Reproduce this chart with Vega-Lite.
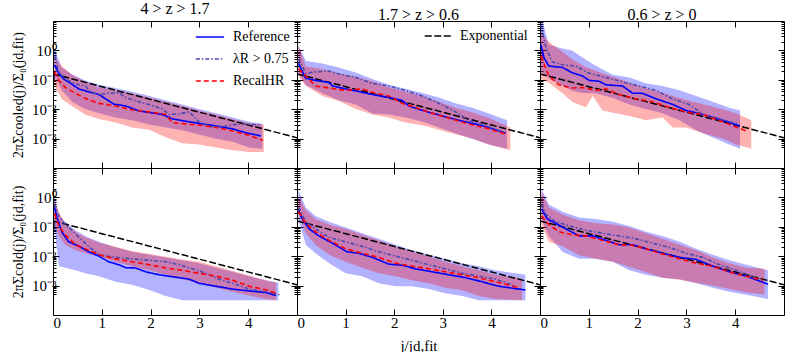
{
"$schema": "https://vega.github.io/schema/vega-lite/v6.json",
"background": "white",
"padding": {"left": 11, "top": 0, "right": 2, "bottom": 2},
"columns": 3,
"spacing": 0,
"bounds": "flush",
"resolve": {"scale": {"color": "independent", "strokeDash": "independent", "stroke": "independent"}},
"datasets": {
"exp": [{"n": "Exponential", "x": 0, "y": 0.159}, {"n": "Exponential", "x": 5, "y": 0.00107}],
"lines": [
{"p":"A","s":"Reference","x":0.03,"y":0.324},{"p":"A","s":"Reference","x":0.12,"y":0.166},{"p":"A","s":"Reference","x":0.22,"y":0.107},{"p":"A","s":"Reference","x":0.36,"y":0.0759},{"p":"A","s":"Reference","x":0.53,"y":0.049},{"p":"A","s":"Reference","x":0.73,"y":0.0389},{"p":"A","s":"Reference","x":0.94,"y":0.0316},{"p":"A","s":"Reference","x":1.08,"y":0.0224},{"p":"A","s":"Reference","x":1.25,"y":0.0148},{"p":"A","s":"Reference","x":1.49,"y":0.0129},{"p":"A","s":"Reference","x":1.76,"y":0.0087},{"p":"A","s":"Reference","x":1.97,"y":0.00776},{"p":"A","s":"Reference","x":2.24,"y":0.00661},{"p":"A","s":"Reference","x":2.45,"y":0.00468},{"p":"A","s":"Reference","x":2.72,"y":0.00389},{"p":"A","s":"Reference","x":2.99,"y":0.00331},{"p":"A","s":"Reference","x":3.34,"y":0.00269},{"p":"A","s":"Reference","x":3.68,"y":0.00214},{"p":"A","s":"Reference","x":3.95,"y":0.00158},{"p":"A","s":"Reference","x":4.26,"y":0.00123},
{"p":"A","s":"λR > 0.75","x":0.03,"y":0.646},{"p":"A","s":"λR > 0.75","x":0.12,"y":0.186},{"p":"A","s":"λR > 0.75","x":0.25,"y":0.107},{"p":"A","s":"λR > 0.75","x":0.39,"y":0.0813},{"p":"A","s":"λR > 0.75","x":0.53,"y":0.0676},{"p":"A","s":"λR > 0.75","x":0.66,"y":0.0617},{"p":"A","s":"λR > 0.75","x":0.77,"y":0.0389},{"p":"A","s":"λR > 0.75","x":0.94,"y":0.0316},{"p":"A","s":"λR > 0.75","x":1.14,"y":0.0347},{"p":"A","s":"λR > 0.75","x":1.35,"y":0.0363},{"p":"A","s":"λR > 0.75","x":1.49,"y":0.0251},{"p":"A","s":"λR > 0.75","x":1.76,"y":0.0178},{"p":"A","s":"λR > 0.75","x":1.97,"y":0.0145},{"p":"A","s":"λR > 0.75","x":2.24,"y":0.0102},{"p":"A","s":"λR > 0.75","x":2.38,"y":0.00661},{"p":"A","s":"λR > 0.75","x":2.58,"y":0.00692},{"p":"A","s":"λR > 0.75","x":2.79,"y":0.00813},{"p":"A","s":"λR > 0.75","x":2.99,"y":0.00372},{"p":"A","s":"λR > 0.75","x":3.27,"y":0.0024},{"p":"A","s":"λR > 0.75","x":3.54,"y":0.00269},{"p":"A","s":"λR > 0.75","x":3.82,"y":0.00316},{"p":"A","s":"λR > 0.75","x":4.09,"y":0.00302},{"p":"A","s":"λR > 0.75","x":4.26,"y":0.00302},
{"p":"A","s":"RecalHR","x":0.03,"y":0.186},{"p":"A","s":"RecalHR","x":0.12,"y":0.0955},{"p":"A","s":"RecalHR","x":0.25,"y":0.055},{"p":"A","s":"RecalHR","x":0.46,"y":0.0347},{"p":"A","s":"RecalHR","x":0.66,"y":0.0234},{"p":"A","s":"RecalHR","x":0.94,"y":0.0158},{"p":"A","s":"RecalHR","x":1.28,"y":0.0129},{"p":"A","s":"RecalHR","x":1.62,"y":0.00955},{"p":"A","s":"RecalHR","x":1.97,"y":0.00813},{"p":"A","s":"RecalHR","x":2.31,"y":0.00661},{"p":"A","s":"RecalHR","x":2.45,"y":0.00347},{"p":"A","s":"RecalHR","x":2.72,"y":0.00316},{"p":"A","s":"RecalHR","x":2.99,"y":0.00288},{"p":"A","s":"RecalHR","x":3.34,"y":0.0024},{"p":"A","s":"RecalHR","x":3.68,"y":0.00182},{"p":"A","s":"RecalHR","x":4.02,"y":0.00129},{"p":"A","s":"RecalHR","x":4.3,"y":0.00087},
{"p":"B","s":"Reference","x":0.03,"y":0.363},{"p":"B","s":"Reference","x":0.18,"y":0.112},{"p":"B","s":"Reference","x":0.38,"y":0.0955},{"p":"B","s":"Reference","x":0.66,"y":0.0813},{"p":"B","s":"Reference","x":0.73,"y":0.0617},{"p":"B","s":"Reference","x":1.0,"y":0.049},{"p":"B","s":"Reference","x":1.21,"y":0.0417},{"p":"B","s":"Reference","x":1.55,"y":0.0316},{"p":"B","s":"Reference","x":1.89,"y":0.0251},{"p":"B","s":"Reference","x":2.16,"y":0.02},{"p":"B","s":"Reference","x":2.3,"y":0.0129},{"p":"B","s":"Reference","x":2.58,"y":0.00912},{"p":"B","s":"Reference","x":2.99,"y":0.00589},{"p":"B","s":"Reference","x":3.26,"y":0.00447},{"p":"B","s":"Reference","x":3.6,"y":0.00331},{"p":"B","s":"Reference","x":3.95,"y":0.0024},{"p":"B","s":"Reference","x":4.29,"y":0.00151},
{"p":"B","s":"λR > 0.75","x":0.03,"y":0.513},{"p":"B","s":"λR > 0.75","x":0.18,"y":0.166},{"p":"B","s":"λR > 0.75","x":0.38,"y":0.186},{"p":"B","s":"λR > 0.75","x":0.66,"y":0.2},{"p":"B","s":"λR > 0.75","x":0.86,"y":0.158},{"p":"B","s":"λR > 0.75","x":1.21,"y":0.12},{"p":"B","s":"λR > 0.75","x":1.55,"y":0.0759},{"p":"B","s":"λR > 0.75","x":1.89,"y":0.0617},{"p":"B","s":"λR > 0.75","x":2.23,"y":0.0437},{"p":"B","s":"λR > 0.75","x":2.58,"y":0.0282},{"p":"B","s":"λR > 0.75","x":2.92,"y":0.0158},{"p":"B","s":"λR > 0.75","x":3.26,"y":0.00813},{"p":"B","s":"λR > 0.75","x":3.53,"y":0.00417},{"p":"B","s":"λR > 0.75","x":3.95,"y":0.00251},{"p":"B","s":"λR > 0.75","x":4.29,"y":0.00158},
{"p":"B","s":"RecalHR","x":0.03,"y":0.234},{"p":"B","s":"RecalHR","x":0.18,"y":0.135},{"p":"B","s":"RecalHR","x":0.38,"y":0.0617},{"p":"B","s":"RecalHR","x":0.66,"y":0.0525},{"p":"B","s":"RecalHR","x":1.0,"y":0.0437},{"p":"B","s":"RecalHR","x":1.34,"y":0.049},{"p":"B","s":"RecalHR","x":1.62,"y":0.0347},{"p":"B","s":"RecalHR","x":1.89,"y":0.0282},{"p":"B","s":"RecalHR","x":2.16,"y":0.0158},{"p":"B","s":"RecalHR","x":2.44,"y":0.0115},{"p":"B","s":"RecalHR","x":2.71,"y":0.00794},{"p":"B","s":"RecalHR","x":3.12,"y":0.00501},{"p":"B","s":"RecalHR","x":3.53,"y":0.00316},{"p":"B","s":"RecalHR","x":3.95,"y":0.00214},{"p":"B","s":"RecalHR","x":4.32,"y":0.00138},
{"p":"C","s":"Reference","x":0.02,"y":1.55},{"p":"C","s":"Reference","x":0.08,"y":0.575},{"p":"C","s":"Reference","x":0.18,"y":0.295},{"p":"C","s":"Reference","x":0.46,"y":0.263},{"p":"C","s":"Reference","x":0.66,"y":0.174},{"p":"C","s":"Reference","x":0.87,"y":0.135},{"p":"C","s":"Reference","x":1.01,"y":0.0955},{"p":"C","s":"Reference","x":1.21,"y":0.0891},{"p":"C","s":"Reference","x":1.35,"y":0.0676},{"p":"C","s":"Reference","x":1.69,"y":0.0617},{"p":"C","s":"Reference","x":1.9,"y":0.0347},{"p":"C","s":"Reference","x":2.1,"y":0.0347},{"p":"C","s":"Reference","x":2.38,"y":0.0224},{"p":"C","s":"Reference","x":2.72,"y":0.0145},{"p":"C","s":"Reference","x":2.99,"y":0.00912},{"p":"C","s":"Reference","x":3.34,"y":0.00661},{"p":"C","s":"Reference","x":3.75,"y":0.00417},{"p":"C","s":"Reference","x":4.09,"y":0.00269},
{"p":"C","s":"λR > 0.75","x":0.02,"y":7.4},{"p":"C","s":"λR > 0.75","x":0.12,"y":1.26},{"p":"C","s":"λR > 0.75","x":0.25,"y":0.407},{"p":"C","s":"λR > 0.75","x":0.46,"y":0.324},{"p":"C","s":"λR > 0.75","x":0.73,"y":0.295},{"p":"C","s":"λR > 0.75","x":1.01,"y":0.166},{"p":"C","s":"λR > 0.75","x":1.35,"y":0.12},{"p":"C","s":"λR > 0.75","x":1.69,"y":0.0851},{"p":"C","s":"λR > 0.75","x":2.03,"y":0.0617},{"p":"C","s":"λR > 0.75","x":2.38,"y":0.0437},{"p":"C","s":"λR > 0.75","x":2.72,"y":0.0224},{"p":"C","s":"λR > 0.75","x":3.06,"y":0.0145},{"p":"C","s":"λR > 0.75","x":3.34,"y":0.00661},{"p":"C","s":"λR > 0.75","x":3.75,"y":0.00437},{"p":"C","s":"λR > 0.75","x":4.09,"y":0.00302},
{"p":"C","s":"RecalHR","x":0.02,"y":0.646},{"p":"C","s":"RecalHR","x":0.18,"y":0.135},{"p":"C","s":"RecalHR","x":0.39,"y":0.0676},{"p":"C","s":"RecalHR","x":0.66,"y":0.0525},{"p":"C","s":"RecalHR","x":0.87,"y":0.055},{"p":"C","s":"RecalHR","x":1.14,"y":0.0437},{"p":"C","s":"RecalHR","x":1.35,"y":0.049},{"p":"C","s":"RecalHR","x":1.62,"y":0.0316},{"p":"C","s":"RecalHR","x":1.97,"y":0.0224},{"p":"C","s":"RecalHR","x":2.31,"y":0.0178},{"p":"C","s":"RecalHR","x":2.65,"y":0.0115},{"p":"C","s":"RecalHR","x":2.99,"y":0.00813},{"p":"C","s":"RecalHR","x":3.34,"y":0.00661},{"p":"C","s":"RecalHR","x":3.75,"y":0.00372},{"p":"C","s":"RecalHR","x":4.23,"y":0.00182},
{"p":"D","s":"Reference","x":0.03,"y":0.457},{"p":"D","s":"Reference","x":0.08,"y":0.209},{"p":"D","s":"Reference","x":0.18,"y":0.0676},{"p":"D","s":"Reference","x":0.32,"y":0.0309},{"p":"D","s":"Reference","x":0.53,"y":0.0219},{"p":"D","s":"Reference","x":0.73,"y":0.0141},{"p":"D","s":"Reference","x":0.94,"y":0.01},{"p":"D","s":"Reference","x":1.14,"y":0.00646},{"p":"D","s":"Reference","x":1.35,"y":0.00513},{"p":"D","s":"Reference","x":1.49,"y":0.00407},{"p":"D","s":"Reference","x":1.69,"y":0.00398},{"p":"D","s":"Reference","x":1.9,"y":0.00295},{"p":"D","s":"Reference","x":2.17,"y":0.00234},{"p":"D","s":"Reference","x":2.45,"y":0.002},{"p":"D","s":"Reference","x":2.79,"y":0.00166},{"p":"D","s":"Reference","x":2.99,"y":0.0012},{"p":"D","s":"Reference","x":3.34,"y":0.00095},{"p":"D","s":"Reference","x":3.68,"y":0.00076},{"p":"D","s":"Reference","x":4.02,"y":0.00066},{"p":"D","s":"Reference","x":4.36,"y":0.00058},{"p":"D","s":"Reference","x":4.57,"y":0.00046},
{"p":"D","s":"λR > 0.75","x":0.03,"y":0.575},{"p":"D","s":"λR > 0.75","x":0.12,"y":0.234},{"p":"D","s":"λR > 0.75","x":0.25,"y":0.117},{"p":"D","s":"λR > 0.75","x":0.39,"y":0.0759},{"p":"D","s":"λR > 0.75","x":0.53,"y":0.0437},{"p":"D","s":"λR > 0.75","x":0.73,"y":0.0219},{"p":"D","s":"λR > 0.75","x":0.94,"y":0.0112},{"p":"D","s":"λR > 0.75","x":1.28,"y":0.00912},{"p":"D","s":"λR > 0.75","x":1.62,"y":0.00813},{"p":"D","s":"λR > 0.75","x":1.97,"y":0.00724},{"p":"D","s":"λR > 0.75","x":2.31,"y":0.00646},{"p":"D","s":"λR > 0.75","x":2.58,"y":0.00513},{"p":"D","s":"λR > 0.75","x":2.86,"y":0.00372},{"p":"D","s":"λR > 0.75","x":3.13,"y":0.00263},{"p":"D","s":"λR > 0.75","x":3.4,"y":0.00166},{"p":"D","s":"λR > 0.75","x":3.68,"y":0.0012},{"p":"D","s":"λR > 0.75","x":4.02,"y":0.00076},{"p":"D","s":"λR > 0.75","x":4.36,"y":0.00062},{"p":"D","s":"λR > 0.75","x":4.64,"y":0.00049},
{"p":"D","s":"RecalHR","x":0.03,"y":0.288},{"p":"D","s":"RecalHR","x":0.12,"y":0.107},{"p":"D","s":"RecalHR","x":0.25,"y":0.0537},{"p":"D","s":"RecalHR","x":0.46,"y":0.0245},{"p":"D","s":"RecalHR","x":0.66,"y":0.0178},{"p":"D","s":"RecalHR","x":0.94,"y":0.0112},{"p":"D","s":"RecalHR","x":1.28,"y":0.00813},{"p":"D","s":"RecalHR","x":1.62,"y":0.00646},{"p":"D","s":"RecalHR","x":1.97,"y":0.00513},{"p":"D","s":"RecalHR","x":2.31,"y":0.00398},{"p":"D","s":"RecalHR","x":2.65,"y":0.00331},{"p":"D","s":"RecalHR","x":2.99,"y":0.00263},{"p":"D","s":"RecalHR","x":3.34,"y":0.00209},{"p":"D","s":"RecalHR","x":3.68,"y":0.00151},{"p":"D","s":"RecalHR","x":4.02,"y":0.00095},{"p":"D","s":"RecalHR","x":4.36,"y":0.00072},{"p":"D","s":"RecalHR","x":4.57,"y":0.00055},
{"p":"E","s":"Reference","x":0.03,"y":0.363},{"p":"E","s":"Reference","x":0.11,"y":0.186},{"p":"E","s":"Reference","x":0.25,"y":0.0851},{"p":"E","s":"Reference","x":0.45,"y":0.049},{"p":"E","s":"Reference","x":0.73,"y":0.0275},{"p":"E","s":"Reference","x":1.03,"y":0.0141},{"p":"E","s":"Reference","x":1.27,"y":0.0126},{"p":"E","s":"Reference","x":1.55,"y":0.00912},{"p":"E","s":"Reference","x":1.89,"y":0.00537},{"p":"E","s":"Reference","x":2.16,"y":0.0049},{"p":"E","s":"Reference","x":2.44,"y":0.00372},{"p":"E","s":"Reference","x":2.78,"y":0.00295},{"p":"E","s":"Reference","x":3.12,"y":0.00234},{"p":"E","s":"Reference","x":3.47,"y":0.00186},{"p":"E","s":"Reference","x":3.81,"y":0.00135},{"p":"E","s":"Reference","x":4.15,"y":0.00095},{"p":"E","s":"Reference","x":4.7,"y":0.00071},
{"p":"E","s":"λR > 0.75","x":0.03,"y":0.457},{"p":"E","s":"λR > 0.75","x":0.18,"y":0.148},{"p":"E","s":"λR > 0.75","x":0.38,"y":0.0851},{"p":"E","s":"λR > 0.75","x":0.66,"y":0.0437},{"p":"E","s":"λR > 0.75","x":1.0,"y":0.0309},{"p":"E","s":"λR > 0.75","x":1.34,"y":0.0219},{"p":"E","s":"λR > 0.75","x":1.68,"y":0.0141},{"p":"E","s":"λR > 0.75","x":2.03,"y":0.01},{"p":"E","s":"λR > 0.75","x":2.37,"y":0.00724},{"p":"E","s":"λR > 0.75","x":2.71,"y":0.00513},{"p":"E","s":"λR > 0.75","x":3.05,"y":0.00372},{"p":"E","s":"λR > 0.75","x":3.4,"y":0.00263},{"p":"E","s":"λR > 0.75","x":3.74,"y":0.00209},{"p":"E","s":"λR > 0.75","x":4.08,"y":0.00166},{"p":"E","s":"λR > 0.75","x":4.49,"y":0.00095},
{"p":"E","s":"RecalHR","x":0.03,"y":0.324},{"p":"E","s":"RecalHR","x":0.18,"y":0.132},{"p":"E","s":"RecalHR","x":0.38,"y":0.0676},{"p":"E","s":"RecalHR","x":0.66,"y":0.0347},{"p":"E","s":"RecalHR","x":1.0,"y":0.0178},{"p":"E","s":"RecalHR","x":1.34,"y":0.0126},{"p":"E","s":"RecalHR","x":1.68,"y":0.00912},{"p":"E","s":"RecalHR","x":2.03,"y":0.00575},{"p":"E","s":"RecalHR","x":2.37,"y":0.00457},{"p":"E","s":"RecalHR","x":2.71,"y":0.00372},{"p":"E","s":"RecalHR","x":3.05,"y":0.00295},{"p":"E","s":"RecalHR","x":3.4,"y":0.00234},{"p":"E","s":"RecalHR","x":3.74,"y":0.00186},{"p":"E","s":"RecalHR","x":4.08,"y":0.00135},{"p":"E","s":"RecalHR","x":4.56,"y":0.00085},
{"p":"F","s":"Reference","x":0.03,"y":0.407},{"p":"F","s":"Reference","x":0.15,"y":0.186},{"p":"F","s":"Reference","x":0.32,"y":0.132},{"p":"F","s":"Reference","x":0.53,"y":0.0851},{"p":"F","s":"Reference","x":0.8,"y":0.049},{"p":"F","s":"Reference","x":1.08,"y":0.049},{"p":"F","s":"Reference","x":1.35,"y":0.0347},{"p":"F","s":"Reference","x":1.62,"y":0.0245},{"p":"F","s":"Reference","x":1.9,"y":0.0245},{"p":"F","s":"Reference","x":2.17,"y":0.0178},{"p":"F","s":"Reference","x":2.51,"y":0.0126},{"p":"F","s":"Reference","x":2.86,"y":0.00912},{"p":"F","s":"Reference","x":3.2,"y":0.00776},{"p":"F","s":"Reference","x":3.54,"y":0.00457},{"p":"F","s":"Reference","x":3.88,"y":0.00295},{"p":"F","s":"Reference","x":4.23,"y":0.00209},{"p":"F","s":"Reference","x":4.67,"y":0.00112},
{"p":"F","s":"λR > 0.75","x":0.03,"y":0.575},{"p":"F","s":"λR > 0.75","x":0.12,"y":0.263},{"p":"F","s":"λR > 0.75","x":0.32,"y":0.148},{"p":"F","s":"λR > 0.75","x":0.6,"y":0.107},{"p":"F","s":"λR > 0.75","x":0.94,"y":0.0759},{"p":"F","s":"λR > 0.75","x":1.28,"y":0.0603},{"p":"F","s":"λR > 0.75","x":1.62,"y":0.049},{"p":"F","s":"λR > 0.75","x":1.97,"y":0.0389},{"p":"F","s":"λR > 0.75","x":2.31,"y":0.0275},{"p":"F","s":"λR > 0.75","x":2.65,"y":0.02},{"p":"F","s":"λR > 0.75","x":2.99,"y":0.0126},{"p":"F","s":"λR > 0.75","x":3.34,"y":0.00912},{"p":"F","s":"λR > 0.75","x":3.68,"y":0.00513},{"p":"F","s":"λR > 0.75","x":4.02,"y":0.00331},{"p":"F","s":"λR > 0.75","x":4.5,"y":0.00166},
{"p":"F","s":"RecalHR","x":0.03,"y":0.234},{"p":"F","s":"RecalHR","x":0.18,"y":0.12},{"p":"F","s":"RecalHR","x":0.39,"y":0.0676},{"p":"F","s":"RecalHR","x":0.66,"y":0.0537},{"p":"F","s":"RecalHR","x":0.94,"y":0.049},{"p":"F","s":"RecalHR","x":1.28,"y":0.0347},{"p":"F","s":"RecalHR","x":1.62,"y":0.0245},{"p":"F","s":"RecalHR","x":1.9,"y":0.0234},{"p":"F","s":"RecalHR","x":2.17,"y":0.0178},{"p":"F","s":"RecalHR","x":2.51,"y":0.012},{"p":"F","s":"RecalHR","x":2.86,"y":0.00813},{"p":"F","s":"RecalHR","x":3.2,"y":0.00575},{"p":"F","s":"RecalHR","x":3.54,"y":0.00457},{"p":"F","s":"RecalHR","x":3.88,"y":0.00295},{"p":"F","s":"RecalHR","x":4.23,"y":0.00209},{"p":"F","s":"RecalHR","x":4.57,"y":0.00151}
],
"bands": [
{"p":"A","b":"blue","x":0.03,"lo":0.135,"hi":1.12},{"p":"A","b":"blue","x":0.18,"lo":0.0437,"hi":0.263},{"p":"A","b":"blue","x":0.39,"lo":0.0178,"hi":0.155},{"p":"A","b":"blue","x":0.66,"lo":0.0102,"hi":0.0955},{"p":"A","b":"blue","x":0.94,"lo":0.00724,"hi":0.0676},{"p":"A","b":"blue","x":1.28,"lo":0.00525,"hi":0.0525},{"p":"A","b":"blue","x":1.62,"lo":0.00417,"hi":0.0389},{"p":"A","b":"blue","x":1.97,"lo":0.00302,"hi":0.0282},{"p":"A","b":"blue","x":2.31,"lo":0.0024,"hi":0.02},{"p":"A","b":"blue","x":2.65,"lo":0.00191,"hi":0.0145},{"p":"A","b":"blue","x":2.99,"lo":0.00138,"hi":0.0102},{"p":"A","b":"blue","x":3.34,"lo":0.00098,"hi":0.00724},{"p":"A","b":"blue","x":3.68,"lo":0.00078,"hi":0.00525},{"p":"A","b":"blue","x":4.02,"lo":0.0005,"hi":0.00372},{"p":"A","b":"blue","x":4.29,"lo":0.00045,"hi":0.00316},
{"p":"A","b":"red","x":0.03,"lo":0.0676,"hi":0.575},{"p":"A","b":"red","x":0.18,"lo":0.0224,"hi":0.295},{"p":"A","b":"red","x":0.39,"lo":0.0129,"hi":0.148},{"p":"A","b":"red","x":0.66,"lo":0.00661,"hi":0.0851},{"p":"A","b":"red","x":0.94,"lo":0.00468,"hi":0.055},{"p":"A","b":"red","x":1.28,"lo":0.00355,"hi":0.0437},{"p":"A","b":"red","x":1.62,"lo":0.0024,"hi":0.0347},{"p":"A","b":"red","x":1.97,"lo":0.002,"hi":0.0251},{"p":"A","b":"red","x":2.31,"lo":0.00112,"hi":0.0178},{"p":"A","b":"red","x":2.65,"lo":0.00069,"hi":0.0129},{"p":"A","b":"red","x":2.99,"lo":0.00063,"hi":0.00912},{"p":"A","b":"red","x":3.34,"lo":0.0005,"hi":0.00661},{"p":"A","b":"red","x":3.68,"lo":0.0004,"hi":0.00468},{"p":"A","b":"red","x":4.02,"lo":0.00035,"hi":0.00331},{"p":"A","b":"red","x":4.32,"lo":0.00035,"hi":0.00302},
{"p":"B","b":"blue","x":0.03,"lo":0.166,"hi":1.41},{"p":"B","b":"blue","x":0.18,"lo":0.0676,"hi":0.447},{"p":"B","b":"blue","x":0.52,"lo":0.0347,"hi":0.355},{"p":"B","b":"blue","x":0.86,"lo":0.02,"hi":0.263},{"p":"B","b":"blue","x":1.21,"lo":0.0145,"hi":0.178},{"p":"B","b":"blue","x":1.55,"lo":0.00708,"hi":0.107},{"p":"B","b":"blue","x":1.89,"lo":0.00661,"hi":0.0676},{"p":"B","b":"blue","x":2.23,"lo":0.00525,"hi":0.0501},{"p":"B","b":"blue","x":2.58,"lo":0.00372,"hi":0.0355},{"p":"B","b":"blue","x":2.92,"lo":0.0024,"hi":0.0251},{"p":"B","b":"blue","x":3.26,"lo":0.00151,"hi":0.0158},{"p":"B","b":"blue","x":3.6,"lo":0.00098,"hi":0.0112},{"p":"B","b":"blue","x":3.95,"lo":0.00063,"hi":0.00708},{"p":"B","b":"blue","x":4.32,"lo":0.00045,"hi":0.00417},
{"p":"B","b":"red","x":0.03,"lo":0.135,"hi":1.55},{"p":"B","b":"red","x":0.18,"lo":0.0631,"hi":0.282},{"p":"B","b":"red","x":0.52,"lo":0.0282,"hi":0.234},{"p":"B","b":"red","x":0.86,"lo":0.0191,"hi":0.166},{"p":"B","b":"red","x":1.21,"lo":0.0102,"hi":0.126},{"p":"B","b":"red","x":1.55,"lo":0.00661,"hi":0.0891},{"p":"B","b":"red","x":1.89,"lo":0.00525,"hi":0.0562},{"p":"B","b":"red","x":2.23,"lo":0.00355,"hi":0.0398},{"p":"B","b":"red","x":2.58,"lo":0.00282,"hi":0.0282},{"p":"B","b":"red","x":2.92,"lo":0.002,"hi":0.0178},{"p":"B","b":"red","x":3.26,"lo":0.00141,"hi":0.0112},{"p":"B","b":"red","x":3.6,"lo":0.001,"hi":0.00794},{"p":"B","b":"red","x":3.95,"lo":0.00063,"hi":0.00501},{"p":"B","b":"red","x":4.39,"lo":0.0004,"hi":0.0024},
{"p":"C","b":"blue","x":0.02,"lo":0.186,"hi":15.8},{"p":"C","b":"blue","x":0.18,"lo":0.112,"hi":1.55},{"p":"C","b":"blue","x":0.46,"lo":0.0617,"hi":1.17},{"p":"C","b":"blue","x":0.66,"lo":0.0417,"hi":1.0},{"p":"C","b":"blue","x":0.87,"lo":0.0355,"hi":0.575},{"p":"C","b":"blue","x":1.14,"lo":0.0347,"hi":0.302},{"p":"C","b":"blue","x":1.49,"lo":0.024,"hi":0.148},{"p":"C","b":"blue","x":1.83,"lo":0.0145,"hi":0.12},{"p":"C","b":"blue","x":2.17,"lo":0.0102,"hi":0.0759},{"p":"C","b":"blue","x":2.51,"lo":0.00724,"hi":0.0617},{"p":"C","b":"blue","x":2.86,"lo":0.00417,"hi":0.0437},{"p":"C","b":"blue","x":3.2,"lo":0.00191,"hi":0.0282},{"p":"C","b":"blue","x":3.54,"lo":0.0011,"hi":0.0178},{"p":"C","b":"blue","x":3.88,"lo":0.00063,"hi":0.0112},{"p":"C","b":"blue","x":4.1,"lo":0.00045,"hi":0.00912},
{"p":"C","b":"red","x":0.02,"lo":0.107,"hi":3.8},{"p":"C","b":"red","x":0.18,"lo":0.0794,"hi":1.95},{"p":"C","b":"red","x":0.46,"lo":0.0347,"hi":0.891},{"p":"C","b":"red","x":0.66,"lo":0.0178,"hi":0.501},{"p":"C","b":"red","x":0.94,"lo":0.0115,"hi":0.269},{"p":"C","b":"red","x":1.08,"lo":0.0282,"hi":0.224},{"p":"C","b":"red","x":1.28,"lo":0.00912,"hi":0.166},{"p":"C","b":"red","x":1.55,"lo":0.00724,"hi":0.117},{"p":"C","b":"red","x":1.83,"lo":0.00589,"hi":0.0813},{"p":"C","b":"red","x":2.17,"lo":0.00417,"hi":0.0525},{"p":"C","b":"red","x":2.51,"lo":0.00525,"hi":0.0363},{"p":"C","b":"red","x":2.72,"lo":0.0024,"hi":0.0282},{"p":"C","b":"red","x":2.99,"lo":0.0024,"hi":0.0209},{"p":"C","b":"red","x":3.34,"lo":0.00151,"hi":0.0148},{"p":"C","b":"red","x":3.75,"lo":0.00098,"hi":0.01},{"p":"C","b":"red","x":4.02,"lo":0.00063,"hi":0.00708},{"p":"C","b":"red","x":4.33,"lo":0.00045,"hi":0.00417},
{"p":"D","b":"blue","x":0.03,"lo":0.0955,"hi":1.12},{"p":"D","b":"blue","x":0.12,"lo":0.00457,"hi":0.234},{"p":"D","b":"blue","x":0.25,"lo":0.00407,"hi":0.148},{"p":"D","b":"blue","x":0.46,"lo":0.00331,"hi":0.0759},{"p":"D","b":"blue","x":0.66,"lo":0.00263,"hi":0.049},{"p":"D","b":"blue","x":0.94,"lo":0.00209,"hi":0.0309},{"p":"D","b":"blue","x":1.28,"lo":0.00135,"hi":0.02},{"p":"D","b":"blue","x":1.62,"lo":0.00107,"hi":0.0141},{"p":"D","b":"blue","x":1.97,"lo":0.00071,"hi":0.0112},{"p":"D","b":"blue","x":2.31,"lo":0.00044,"hi":0.00912},{"p":"D","b":"blue","x":2.65,"lo":0.00032,"hi":0.00724},{"p":"D","b":"blue","x":2.99,"lo":0.00032,"hi":0.00575},{"p":"D","b":"blue","x":3.34,"lo":0.00032,"hi":0.00407},{"p":"D","b":"blue","x":3.68,"lo":0.00032,"hi":0.00295},{"p":"D","b":"blue","x":4.02,"lo":0.00032,"hi":0.00209},{"p":"D","b":"blue","x":4.36,"lo":0.00032,"hi":0.00151},{"p":"D","b":"blue","x":4.62,"lo":0.00032,"hi":0.00126},
{"p":"D","b":"red","x":0.03,"lo":0.12,"hi":0.794},{"p":"D","b":"red","x":0.12,"lo":0.049,"hi":0.324},{"p":"D","b":"red","x":0.25,"lo":0.0245,"hi":0.132},{"p":"D","b":"red","x":0.46,"lo":0.0158,"hi":0.0676},{"p":"D","b":"red","x":0.66,"lo":0.0126,"hi":0.0437},{"p":"D","b":"red","x":0.94,"lo":0.01,"hi":0.0295},{"p":"D","b":"red","x":1.28,"lo":0.00646,"hi":0.0209},{"p":"D","b":"red","x":1.62,"lo":0.00457,"hi":0.0151},{"p":"D","b":"red","x":1.97,"lo":0.00331,"hi":0.012},{"p":"D","b":"red","x":2.31,"lo":0.00234,"hi":0.00955},{"p":"D","b":"red","x":2.65,"lo":0.00166,"hi":0.00776},{"p":"D","b":"red","x":2.99,"lo":0.0012,"hi":0.00646},{"p":"D","b":"red","x":3.34,"lo":0.00085,"hi":0.00457},{"p":"D","b":"red","x":3.68,"lo":0.00062,"hi":0.00316},{"p":"D","b":"red","x":4.02,"lo":0.00046,"hi":0.00219},{"p":"D","b":"red","x":4.36,"lo":0.00035,"hi":0.00151},{"p":"D","b":"red","x":4.57,"lo":0.00032,"hi":0.00126},
{"p":"E","b":"blue","x":0.03,"lo":0.186,"hi":1.74},{"p":"E","b":"blue","x":0.18,"lo":0.0245,"hi":0.457},{"p":"E","b":"blue","x":0.38,"lo":0.0126,"hi":0.234},{"p":"E","b":"blue","x":0.66,"lo":0.00575,"hi":0.148},{"p":"E","b":"blue","x":1.0,"lo":0.00263,"hi":0.0955},{"p":"E","b":"blue","x":1.34,"lo":0.00209,"hi":0.0603},{"p":"E","b":"blue","x":1.68,"lo":0.0012,"hi":0.0389},{"p":"E","b":"blue","x":2.03,"lo":0.00095,"hi":0.0245},{"p":"E","b":"blue","x":2.37,"lo":0.00095,"hi":0.0158},{"p":"E","b":"blue","x":2.71,"lo":0.00076,"hi":0.0112},{"p":"E","b":"blue","x":3.05,"lo":0.00055,"hi":0.00813},{"p":"E","b":"blue","x":3.4,"lo":0.00044,"hi":0.00575},{"p":"E","b":"blue","x":3.74,"lo":0.00032,"hi":0.00457},{"p":"E","b":"blue","x":4.08,"lo":0.00032,"hi":0.00331},{"p":"E","b":"blue","x":4.7,"lo":0.00032,"hi":0.00234},
{"p":"E","b":"red","x":0.03,"lo":0.288,"hi":1.12},{"p":"E","b":"red","x":0.18,"lo":0.0603,"hi":0.363},{"p":"E","b":"red","x":0.38,"lo":0.0245,"hi":0.186},{"p":"E","b":"red","x":0.66,"lo":0.0112,"hi":0.12},{"p":"E","b":"red","x":1.0,"lo":0.00646,"hi":0.0851},{"p":"E","b":"red","x":1.34,"lo":0.00407,"hi":0.0537},{"p":"E","b":"red","x":1.68,"lo":0.00263,"hi":0.0347},{"p":"E","b":"red","x":2.03,"lo":0.00209,"hi":0.0219},{"p":"E","b":"red","x":2.37,"lo":0.00151,"hi":0.0141},{"p":"E","b":"red","x":2.71,"lo":0.0012,"hi":0.01},{"p":"E","b":"red","x":3.05,"lo":0.00085,"hi":0.00646},{"p":"E","b":"red","x":3.4,"lo":0.00069,"hi":0.00457},{"p":"E","b":"red","x":3.74,"lo":0.00044,"hi":0.00331},{"p":"E","b":"red","x":4.08,"lo":0.00035,"hi":0.00234},{"p":"E","b":"red","x":4.63,"lo":0.00032,"hi":0.00174},
{"p":"F","b":"blue","x":0.03,"lo":0.186,"hi":1.95},{"p":"F","b":"blue","x":0.18,"lo":0.049,"hi":0.575},{"p":"F","b":"blue","x":0.46,"lo":0.0141,"hi":0.324},{"p":"F","b":"blue","x":0.8,"lo":0.00813,"hi":0.209},{"p":"F","b":"blue","x":1.14,"lo":0.00813,"hi":0.186},{"p":"F","b":"blue","x":1.49,"lo":0.00646,"hi":0.148},{"p":"F","b":"blue","x":1.83,"lo":0.00331,"hi":0.107},{"p":"F","b":"blue","x":2.17,"lo":0.00234,"hi":0.0676},{"p":"F","b":"blue","x":2.51,"lo":0.00186,"hi":0.049},{"p":"F","b":"blue","x":2.86,"lo":0.00166,"hi":0.0309},{"p":"F","b":"blue","x":3.2,"lo":0.0012,"hi":0.0178},{"p":"F","b":"blue","x":3.54,"lo":0.00085,"hi":0.0112},{"p":"F","b":"blue","x":3.88,"lo":0.00062,"hi":0.00724},{"p":"F","b":"blue","x":4.23,"lo":0.00049,"hi":0.00513},{"p":"F","b":"blue","x":4.67,"lo":0.00035,"hi":0.00331},
{"p":"F","b":"red","x":0.03,"lo":0.12,"hi":1.55},{"p":"F","b":"red","x":0.18,"lo":0.0309,"hi":0.457},{"p":"F","b":"red","x":0.46,"lo":0.0219,"hi":0.263},{"p":"F","b":"red","x":0.8,"lo":0.0107,"hi":0.166},{"p":"F","b":"red","x":1.14,"lo":0.00813,"hi":0.132},{"p":"F","b":"red","x":1.49,"lo":0.00646,"hi":0.12},{"p":"F","b":"red","x":1.83,"lo":0.00437,"hi":0.0955},{"p":"F","b":"red","x":2.17,"lo":0.00282,"hi":0.0603},{"p":"F","b":"red","x":2.51,"lo":0.00186,"hi":0.0389},{"p":"F","b":"red","x":2.86,"lo":0.00158,"hi":0.0245},{"p":"F","b":"red","x":3.2,"lo":0.00126,"hi":0.0158},{"p":"F","b":"red","x":3.54,"lo":0.001,"hi":0.00912},{"p":"F","b":"red","x":3.88,"lo":0.00076,"hi":0.00575},{"p":"F","b":"red","x":4.23,"lo":0.00058,"hi":0.00407},{"p":"F","b":"red","x":4.6,"lo":0.0005,"hi":0.00372}
]
},
"concat": [
{"width": 244, "height": 147, "title": {"text": "4 > z > 1.7"},
 "layer": [
  {"data": {"name": "bands"}, "transform": [{"filter": "datum.p == 'A' && datum.b == 'blue'"}], "mark": {"type": "area", "color": "#0000ff", "opacity": 0.3, "clip": true},
   "encoding": {"x": {"field": "x", "type": "quantitative", "scale": {"domain": [0, 5]}, "axis": {"orient": "bottom", "values": [0,1,2,3,4], "tickSize": -6, "labels": false, "title": null}},
     "y": {"field": "lo", "type": "quantitative", "scale": {"type": "log", "domain": [0.00044, 9]}, "axis": {"orient": "left", "values": [0.0005,0.0006,0.0007,0.0008,0.0009,0.001,0.002,0.003,0.004,0.005,0.006,0.007,0.008,0.009,0.01,0.02,0.03,0.04,0.05,0.06,0.07,0.08,0.09,0.1,0.2,0.3,0.4,0.5,0.6,0.7,0.8,0.9,1,2,3,4,5,6,7,8,9], "labelExpr": "datum.value == 1 ? '10⁰' : datum.value == 0.1 ? '10⁻¹' : datum.value == 0.01 ? '10⁻²' : datum.value == 0.001 ? '10⁻³' : ''", "labelOverlap": false, "labelFontSize": 15, "tickSize": {"condition": {"test": "datum.value == 1 || datum.value == 0.1 || datum.value == 0.01 || datum.value == 0.001", "value": -6}, "value": -3}, "labelPadding": 3, "title": "2πΣcooled(j)/Σ₀(jd,fit)", "titleFontSize": 14, "titlePadding": 6}},
     "y2": {"field": "hi"}}},
  {"data": {"name": "bands"}, "transform": [{"filter": "datum.p == 'A' && datum.b == 'red'"}], "mark": {"type": "area", "color": "#ff0000", "opacity": 0.3, "clip": true},
   "encoding": {"x": {"field": "x", "type": "quantitative", "axis": null}, "y": {"field": "lo", "type": "quantitative", "axis": null}, "y2": {"field": "hi"}}},
  {"data": {"name": "exp"}, "mark": {"type": "line", "color": "black", "strokeDash": [7, 2.5], "strokeWidth": 1.5, "clip": true},
   "encoding": {"x": {"field": "x", "type": "quantitative", "axis": null}, "y": {"field": "y", "type": "quantitative", "axis": null}}},
  {"data": {"name": "lines"}, "transform": [{"filter": "datum.p == 'A'"}], "mark": {"type": "line", "strokeWidth": 1.6, "clip": true},
   "encoding": {"x": {"field": "x", "type": "quantitative", "axis": {"orient": "top", "values": [0,1,2,3,4], "tickSize": -6, "labels": false, "title": null}},
     "y": {"field": "y", "type": "quantitative", "axis": {"orient": "right", "values": [0.0005,0.0006,0.0007,0.0008,0.0009,0.001,0.002,0.003,0.004,0.005,0.006,0.007,0.008,0.009,0.01,0.02,0.03,0.04,0.05,0.06,0.07,0.08,0.09,0.1,0.2,0.3,0.4,0.5,0.6,0.7,0.8,0.9,1,2,3,4,5,6,7,8,9], "tickSize": {"condition": {"test": "datum.value == 1 || datum.value == 0.1 || datum.value == 0.01 || datum.value == 0.001", "value": -6}, "value": -3}, "labels": false, "title": null}},
     "color": {"field": "s", "type": "nominal", "scale": {"domain": ["Reference", "λR > 0.75", "RecalHR"], "range": ["#0000ff", "#4a4ab0", "#ff0000"]}, "legend": {"orient": "none", "legendX": 142, "legendY": 1, "title": null, "symbolType": "stroke", "symbolSize": 800, "symbolStrokeWidth": 1.6, "rowPadding": -12.5, "labelOffset": 8, "labelFontSize": 14}},
     "strokeDash": {"field": "s", "type": "nominal", "scale": {"domain": ["Reference", "λR > 0.75", "RecalHR"], "range": [[1, 0], [4, 2, 1.5, 2], [5, 3]]}, "legend": {"orient": "none", "legendX": 142, "legendY": 1, "title": null, "symbolType": "stroke", "symbolSize": 800, "symbolStrokeWidth": 1.6, "rowPadding": -12.5, "labelOffset": 8, "labelFontSize": 14}}}}
 ],
 "resolve": {"axis": {"x": "independent", "y": "independent"}}},
{"width": 243, "height": 147, "title": {"text": "1.7 > z > 0.6"},
 "layer": [
  {"data": {"name": "bands"}, "transform": [{"filter": "datum.p == 'B' && datum.b == 'blue'"}], "mark": {"type": "area", "color": "#0000ff", "opacity": 0.3, "clip": true},
   "encoding": {"x": {"field": "x", "type": "quantitative", "scale": {"domain": [0, 5]}, "axis": {"orient": "bottom", "values": [0,1,2,3,4], "tickSize": -6, "labels": false, "title": null}},
     "y": {"field": "lo", "type": "quantitative", "scale": {"type": "log", "domain": [0.00044, 9]}, "axis": {"orient": "left", "values": [0.0005,0.0006,0.0007,0.0008,0.0009,0.001,0.002,0.003,0.004,0.005,0.006,0.007,0.008,0.009,0.01,0.02,0.03,0.04,0.05,0.06,0.07,0.08,0.09,0.1,0.2,0.3,0.4,0.5,0.6,0.7,0.8,0.9,1,2,3,4,5,6,7,8,9], "tickSize": {"condition": {"test": "datum.value == 1 || datum.value == 0.1 || datum.value == 0.01 || datum.value == 0.001", "value": -6}, "value": -3}, "labels": false, "title": null}},
     "y2": {"field": "hi"}}},
  {"data": {"name": "bands"}, "transform": [{"filter": "datum.p == 'B' && datum.b == 'red'"}], "mark": {"type": "area", "color": "#ff0000", "opacity": 0.3, "clip": true},
   "encoding": {"x": {"field": "x", "type": "quantitative", "axis": null}, "y": {"field": "lo", "type": "quantitative", "axis": null}, "y2": {"field": "hi"}}},
  {"data": {"name": "exp"}, "mark": {"type": "line", "color": "black", "strokeDash": [7, 2.5], "strokeWidth": 1.5, "clip": true},
   "encoding": {"x": {"field": "x", "type": "quantitative", "axis": null}, "y": {"field": "y", "type": "quantitative", "axis": null},
     "stroke": {"field": "n", "type": "nominal", "scale": {"range": ["black"]}, "legend": {"orient": "none", "legendX": 127, "legendY": 1, "title": null, "symbolType": "stroke", "symbolSize": 700, "symbolDash": [7, 2.5], "symbolStrokeWidth": 1.5, "labelOffset": 8, "labelFontSize": 14}}}},
  {"data": {"name": "lines"}, "transform": [{"filter": "datum.p == 'B'"}], "mark": {"type": "line", "strokeWidth": 1.6, "clip": true},
   "encoding": {"x": {"field": "x", "type": "quantitative", "axis": {"orient": "top", "values": [0,1,2,3,4], "tickSize": -6, "labels": false, "title": null}},
     "y": {"field": "y", "type": "quantitative", "axis": {"orient": "right", "values": [0.0005,0.0006,0.0007,0.0008,0.0009,0.001,0.002,0.003,0.004,0.005,0.006,0.007,0.008,0.009,0.01,0.02,0.03,0.04,0.05,0.06,0.07,0.08,0.09,0.1,0.2,0.3,0.4,0.5,0.6,0.7,0.8,0.9,1,2,3,4,5,6,7,8,9], "tickSize": {"condition": {"test": "datum.value == 1 || datum.value == 0.1 || datum.value == 0.01 || datum.value == 0.001", "value": -6}, "value": -3}, "labels": false, "title": null}},
     "color": {"field": "s", "type": "nominal", "scale": {"domain": ["Reference", "λR > 0.75", "RecalHR"], "range": ["#0000ff", "#4a4ab0", "#ff0000"]}, "legend": null},
     "strokeDash": {"field": "s", "type": "nominal", "scale": {"domain": ["Reference", "λR > 0.75", "RecalHR"], "range": [[1, 0], [4, 2, 1.5, 2], [5, 3]]}, "legend": null}}}
 ],
 "resolve": {"axis": {"x": "independent", "y": "independent"}}},
{"width": 244, "height": 147, "title": {"text": "0.6 > z > 0"},
 "layer": [
  {"data": {"name": "bands"}, "transform": [{"filter": "datum.p == 'C' && datum.b == 'blue'"}], "mark": {"type": "area", "color": "#0000ff", "opacity": 0.3, "clip": true},
   "encoding": {"x": {"field": "x", "type": "quantitative", "scale": {"domain": [0, 5]}, "axis": {"orient": "bottom", "values": [0,1,2,3,4], "tickSize": -6, "labels": false, "title": null}},
     "y": {"field": "lo", "type": "quantitative", "scale": {"type": "log", "domain": [0.00044, 9]}, "axis": {"orient": "left", "values": [0.0005,0.0006,0.0007,0.0008,0.0009,0.001,0.002,0.003,0.004,0.005,0.006,0.007,0.008,0.009,0.01,0.02,0.03,0.04,0.05,0.06,0.07,0.08,0.09,0.1,0.2,0.3,0.4,0.5,0.6,0.7,0.8,0.9,1,2,3,4,5,6,7,8,9], "tickSize": {"condition": {"test": "datum.value == 1 || datum.value == 0.1 || datum.value == 0.01 || datum.value == 0.001", "value": -6}, "value": -3}, "labels": false, "title": null}},
     "y2": {"field": "hi"}}},
  {"data": {"name": "bands"}, "transform": [{"filter": "datum.p == 'C' && datum.b == 'red'"}], "mark": {"type": "area", "color": "#ff0000", "opacity": 0.3, "clip": true},
   "encoding": {"x": {"field": "x", "type": "quantitative", "axis": null}, "y": {"field": "lo", "type": "quantitative", "axis": null}, "y2": {"field": "hi"}}},
  {"data": {"name": "exp"}, "mark": {"type": "line", "color": "black", "strokeDash": [7, 2.5], "strokeWidth": 1.5, "clip": true},
   "encoding": {"x": {"field": "x", "type": "quantitative", "axis": null}, "y": {"field": "y", "type": "quantitative", "axis": null}}},
  {"data": {"name": "lines"}, "transform": [{"filter": "datum.p == 'C'"}], "mark": {"type": "line", "strokeWidth": 1.6, "clip": true},
   "encoding": {"x": {"field": "x", "type": "quantitative", "axis": {"orient": "top", "values": [0,1,2,3,4], "tickSize": -6, "labels": false, "title": null}},
     "y": {"field": "y", "type": "quantitative", "axis": {"orient": "right", "values": [0.0005,0.0006,0.0007,0.0008,0.0009,0.001,0.002,0.003,0.004,0.005,0.006,0.007,0.008,0.009,0.01,0.02,0.03,0.04,0.05,0.06,0.07,0.08,0.09,0.1,0.2,0.3,0.4,0.5,0.6,0.7,0.8,0.9,1,2,3,4,5,6,7,8,9], "tickSize": {"condition": {"test": "datum.value == 1 || datum.value == 0.1 || datum.value == 0.01 || datum.value == 0.001", "value": -6}, "value": -3}, "labels": false, "title": null}},
     "color": {"field": "s", "type": "nominal", "scale": {"domain": ["Reference", "λR > 0.75", "RecalHR"], "range": ["#0000ff", "#4a4ab0", "#ff0000"]}, "legend": null},
     "strokeDash": {"field": "s", "type": "nominal", "scale": {"domain": ["Reference", "λR > 0.75", "RecalHR"], "range": [[1, 0], [4, 2, 1.5, 2], [5, 3]]}, "legend": null}}}
 ],
 "resolve": {"axis": {"x": "independent", "y": "independent"}}},
{"width": 244, "height": 147,
 "layer": [
  {"data": {"name": "bands"}, "transform": [{"filter": "datum.p == 'D' && datum.b == 'blue'"}], "mark": {"type": "area", "color": "#0000ff", "opacity": 0.3, "clip": true},
   "encoding": {"x": {"field": "x", "type": "quantitative", "scale": {"domain": [0, 5]}, "axis": {"orient": "bottom", "values": [0,1,2,3,4], "tickSize": -6, "labelPadding": 6, "labelFontSize": 15, "title": null}},
     "y": {"field": "lo", "type": "quantitative", "scale": {"type": "log", "domain": [0.00044, 9]}, "axis": {"orient": "left", "values": [0.0005,0.0006,0.0007,0.0008,0.0009,0.001,0.002,0.003,0.004,0.005,0.006,0.007,0.008,0.009,0.01,0.02,0.03,0.04,0.05,0.06,0.07,0.08,0.09,0.1,0.2,0.3,0.4,0.5,0.6,0.7,0.8,0.9,1,2,3,4,5,6,7,8,9], "labelExpr": "datum.value == 1 ? '10⁰' : datum.value == 0.1 ? '10⁻¹' : datum.value == 0.01 ? '10⁻²' : datum.value == 0.001 ? '10⁻³' : ''", "labelOverlap": false, "labelFontSize": 15, "tickSize": {"condition": {"test": "datum.value == 1 || datum.value == 0.1 || datum.value == 0.01 || datum.value == 0.001", "value": -6}, "value": -3}, "labelPadding": 3, "title": "2πΣcold(j)/Σ₀(jd,fit)", "titleFontSize": 14, "titlePadding": 6}},
     "y2": {"field": "hi"}}},
  {"data": {"name": "bands"}, "transform": [{"filter": "datum.p == 'D' && datum.b == 'red'"}], "mark": {"type": "area", "color": "#ff0000", "opacity": 0.3, "clip": true},
   "encoding": {"x": {"field": "x", "type": "quantitative", "axis": null}, "y": {"field": "lo", "type": "quantitative", "axis": null}, "y2": {"field": "hi"}}},
  {"data": {"name": "exp"}, "mark": {"type": "line", "color": "black", "strokeDash": [7, 2.5], "strokeWidth": 1.5, "clip": true},
   "encoding": {"x": {"field": "x", "type": "quantitative", "axis": null}, "y": {"field": "y", "type": "quantitative", "axis": null}}},
  {"data": {"name": "lines"}, "transform": [{"filter": "datum.p == 'D'"}], "mark": {"type": "line", "strokeWidth": 1.6, "clip": true},
   "encoding": {"x": {"field": "x", "type": "quantitative", "axis": {"orient": "top", "values": [0,1,2,3,4], "tickSize": -6, "labels": false, "title": null}},
     "y": {"field": "y", "type": "quantitative", "axis": {"orient": "right", "values": [0.0005,0.0006,0.0007,0.0008,0.0009,0.001,0.002,0.003,0.004,0.005,0.006,0.007,0.008,0.009,0.01,0.02,0.03,0.04,0.05,0.06,0.07,0.08,0.09,0.1,0.2,0.3,0.4,0.5,0.6,0.7,0.8,0.9,1,2,3,4,5,6,7,8,9], "tickSize": {"condition": {"test": "datum.value == 1 || datum.value == 0.1 || datum.value == 0.01 || datum.value == 0.001", "value": -6}, "value": -3}, "labels": false, "title": null}},
     "color": {"field": "s", "type": "nominal", "scale": {"domain": ["Reference", "λR > 0.75", "RecalHR"], "range": ["#0000ff", "#4a4ab0", "#ff0000"]}, "legend": null},
     "strokeDash": {"field": "s", "type": "nominal", "scale": {"domain": ["Reference", "λR > 0.75", "RecalHR"], "range": [[1, 0], [4, 2, 1.5, 2], [5, 3]]}, "legend": null}}}
 ],
 "resolve": {"axis": {"x": "independent", "y": "independent"}}},
{"width": 243, "height": 147,
 "layer": [
  {"data": {"name": "bands"}, "transform": [{"filter": "datum.p == 'E' && datum.b == 'blue'"}], "mark": {"type": "area", "color": "#0000ff", "opacity": 0.3, "clip": true},
   "encoding": {"x": {"field": "x", "type": "quantitative", "scale": {"domain": [0, 5]}, "axis": {"orient": "bottom", "values": [0,1,2,3,4], "tickSize": -6, "labelPadding": 6, "labelFontSize": 15, "title": "j/jd,fit", "titleFontSize": 15, "titlePadding": 8}},
     "y": {"field": "lo", "type": "quantitative", "scale": {"type": "log", "domain": [0.00044, 9]}, "axis": {"orient": "left", "values": [0.0005,0.0006,0.0007,0.0008,0.0009,0.001,0.002,0.003,0.004,0.005,0.006,0.007,0.008,0.009,0.01,0.02,0.03,0.04,0.05,0.06,0.07,0.08,0.09,0.1,0.2,0.3,0.4,0.5,0.6,0.7,0.8,0.9,1,2,3,4,5,6,7,8,9], "tickSize": {"condition": {"test": "datum.value == 1 || datum.value == 0.1 || datum.value == 0.01 || datum.value == 0.001", "value": -6}, "value": -3}, "labels": false, "title": null}},
     "y2": {"field": "hi"}}},
  {"data": {"name": "bands"}, "transform": [{"filter": "datum.p == 'E' && datum.b == 'red'"}], "mark": {"type": "area", "color": "#ff0000", "opacity": 0.3, "clip": true},
   "encoding": {"x": {"field": "x", "type": "quantitative", "axis": null}, "y": {"field": "lo", "type": "quantitative", "axis": null}, "y2": {"field": "hi"}}},
  {"data": {"name": "exp"}, "mark": {"type": "line", "color": "black", "strokeDash": [7, 2.5], "strokeWidth": 1.5, "clip": true},
   "encoding": {"x": {"field": "x", "type": "quantitative", "axis": null}, "y": {"field": "y", "type": "quantitative", "axis": null}}},
  {"data": {"name": "lines"}, "transform": [{"filter": "datum.p == 'E'"}], "mark": {"type": "line", "strokeWidth": 1.6, "clip": true},
   "encoding": {"x": {"field": "x", "type": "quantitative", "axis": {"orient": "top", "values": [0,1,2,3,4], "tickSize": -6, "labels": false, "title": null}},
     "y": {"field": "y", "type": "quantitative", "axis": {"orient": "right", "values": [0.0005,0.0006,0.0007,0.0008,0.0009,0.001,0.002,0.003,0.004,0.005,0.006,0.007,0.008,0.009,0.01,0.02,0.03,0.04,0.05,0.06,0.07,0.08,0.09,0.1,0.2,0.3,0.4,0.5,0.6,0.7,0.8,0.9,1,2,3,4,5,6,7,8,9], "tickSize": {"condition": {"test": "datum.value == 1 || datum.value == 0.1 || datum.value == 0.01 || datum.value == 0.001", "value": -6}, "value": -3}, "labels": false, "title": null}},
     "color": {"field": "s", "type": "nominal", "scale": {"domain": ["Reference", "λR > 0.75", "RecalHR"], "range": ["#0000ff", "#4a4ab0", "#ff0000"]}, "legend": null},
     "strokeDash": {"field": "s", "type": "nominal", "scale": {"domain": ["Reference", "λR > 0.75", "RecalHR"], "range": [[1, 0], [4, 2, 1.5, 2], [5, 3]]}, "legend": null}}}
 ],
 "resolve": {"axis": {"x": "independent", "y": "independent"}}},
{"width": 244, "height": 147,
 "layer": [
  {"data": {"name": "bands"}, "transform": [{"filter": "datum.p == 'F' && datum.b == 'blue'"}], "mark": {"type": "area", "color": "#0000ff", "opacity": 0.3, "clip": true},
   "encoding": {"x": {"field": "x", "type": "quantitative", "scale": {"domain": [0, 5]}, "axis": {"orient": "bottom", "values": [0,1,2,3,4], "tickSize": -6, "labelPadding": 6, "labelFontSize": 15, "title": null}},
     "y": {"field": "lo", "type": "quantitative", "scale": {"type": "log", "domain": [0.00044, 9]}, "axis": {"orient": "left", "values": [0.0005,0.0006,0.0007,0.0008,0.0009,0.001,0.002,0.003,0.004,0.005,0.006,0.007,0.008,0.009,0.01,0.02,0.03,0.04,0.05,0.06,0.07,0.08,0.09,0.1,0.2,0.3,0.4,0.5,0.6,0.7,0.8,0.9,1,2,3,4,5,6,7,8,9], "tickSize": {"condition": {"test": "datum.value == 1 || datum.value == 0.1 || datum.value == 0.01 || datum.value == 0.001", "value": -6}, "value": -3}, "labels": false, "title": null}},
     "y2": {"field": "hi"}}},
  {"data": {"name": "bands"}, "transform": [{"filter": "datum.p == 'F' && datum.b == 'red'"}], "mark": {"type": "area", "color": "#ff0000", "opacity": 0.3, "clip": true},
   "encoding": {"x": {"field": "x", "type": "quantitative", "axis": null}, "y": {"field": "lo", "type": "quantitative", "axis": null}, "y2": {"field": "hi"}}},
  {"data": {"name": "exp"}, "mark": {"type": "line", "color": "black", "strokeDash": [7, 2.5], "strokeWidth": 1.5, "clip": true},
   "encoding": {"x": {"field": "x", "type": "quantitative", "axis": null}, "y": {"field": "y", "type": "quantitative", "axis": null}}},
  {"data": {"name": "lines"}, "transform": [{"filter": "datum.p == 'F'"}], "mark": {"type": "line", "strokeWidth": 1.6, "clip": true},
   "encoding": {"x": {"field": "x", "type": "quantitative", "axis": {"orient": "top", "values": [0,1,2,3,4], "tickSize": -6, "labels": false, "title": null}},
     "y": {"field": "y", "type": "quantitative", "axis": {"orient": "right", "values": [0.0005,0.0006,0.0007,0.0008,0.0009,0.001,0.002,0.003,0.004,0.005,0.006,0.007,0.008,0.009,0.01,0.02,0.03,0.04,0.05,0.06,0.07,0.08,0.09,0.1,0.2,0.3,0.4,0.5,0.6,0.7,0.8,0.9,1,2,3,4,5,6,7,8,9], "tickSize": {"condition": {"test": "datum.value == 1 || datum.value == 0.1 || datum.value == 0.01 || datum.value == 0.001", "value": -6}, "value": -3}, "labels": false, "title": null}},
     "color": {"field": "s", "type": "nominal", "scale": {"domain": ["Reference", "λR > 0.75", "RecalHR"], "range": ["#0000ff", "#4a4ab0", "#ff0000"]}, "legend": null},
     "strokeDash": {"field": "s", "type": "nominal", "scale": {"domain": ["Reference", "λR > 0.75", "RecalHR"], "range": [[1, 0], [4, 2, 1.5, 2], [5, 3]]}, "legend": null}}}
 ],
 "resolve": {"axis": {"x": "independent", "y": "independent"}}}
],
"config": {
 "font": "Liberation Serif",
 "view": {"stroke": "black", "strokeWidth": 1},
 "axis": {"domain": false, "grid": false, "minExtent": 0, "tickColor": "black", "tickWidth": 1, "labelColor": "black", "labelFont": "Liberation Serif", "labelFontSize": 14, "titleFont": "Liberation Serif", "titleFontWeight": "normal", "titleColor": "black"},
 "legend": {"labelFont": "Liberation Serif", "labelFontSize": 14, "labelColor": "black"},
 "title": {"font": "Liberation Serif", "fontSize": 16, "fontWeight": "normal", "color": "black", "anchor": "middle", "baseline": "alphabetic", "offset": -2}
}
}
